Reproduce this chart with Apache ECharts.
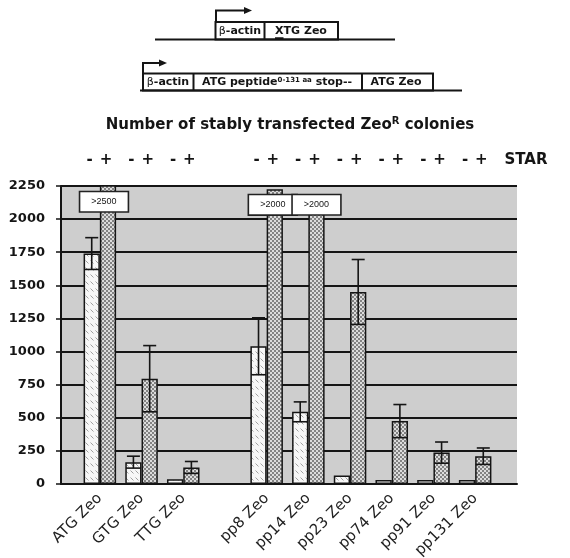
<!DOCTYPE html>
<html><head><meta charset="utf-8">
<script src="https://cdn.jsdelivr.net/npm/echarts@6/dist/echarts.min.js"></script>
<style>html,body{margin:0;padding:0;background:#fff}#c{width:570px;height:558px}</style>
</head><body><div id="c"></div>
<script>
// ---------- data ----------
const categories = ['ATG Zeo','GTG Zeo','TTG Zeo','','pp8 Zeo','pp14 Zeo','pp23 Zeo','pp74 Zeo','pp91 Zeo','pp131 Zeo'];
const minusStar = [1740, 165, 35, null, 1040, 545, 65, 30, 30, 30];
const minusErr  = [120, 45, 0, null, 215, 75, 0, 0, 0, 0];
const plusStar  = [2600, 795, 125, null, 2225, 2150, 1450, 475, 237, 210];
const plusErr   = [0, 250, 45, null, 0, 0, 245, 125, 80, 62];
const overflowLabels = ['>2500', null, null, null, '>2000', '>2000', null, null, null, null];
const starSigns = ['-', '+'];
const yMin = 0, yMax = 2250, yInterval = 250;

// ---------- styles ----------
const CAT_GAP = 0.22;
const boxPos = { 0: [-4, 7], 4: [-2, 6], 5: [0, -4] };
const INK = '#151515';
const BOLD = 'DejaVu Sans';

function hatchPattern() {
  const c = document.createElement('canvas'); c.width = 5; c.height = 7;
  const g = c.getContext('2d');
  g.fillStyle = '#f7f7f7'; g.fillRect(0, 0, 5, 7);
  g.strokeStyle = '#a0a0a0'; g.lineWidth = 1;
  g.beginPath(); g.moveTo(0.5, 1.5); g.lineTo(3.5, 4.5); g.stroke();
  return c;
}
function dotPattern() {
  const c = document.createElement('canvas'); c.width = 4; c.height = 4;
  const g = c.getContext('2d');
  g.fillStyle = '#dcdcdc'; g.fillRect(0, 0, 4, 4);
  g.fillStyle = '#838383'; g.fillRect(0, 0, 2, 2); g.fillRect(2, 2, 2, 2);
  return c;
}

const chart = echarts.init(document.getElementById('c'), null, { renderer: 'canvas' });

function errRender(side) {
  return function (params, api) {
    const i = api.value(0), m = api.value(1), e = api.value(2);
    const band = api.size([1, 0])[0];
    const bw = band * (1 - CAT_GAP) / 2;
    const cx = api.coord([i, m])[0] + side * bw / 2;
    const yt = api.coord([i, m + e])[1], yb = api.coord([i, m - e])[1];
    const st = { stroke: INK, lineWidth: 1.6 };
    return { type: 'group', children: [
      { type: 'line', shape: { x1: cx, y1: yt, x2: cx, y2: yb }, style: st },
      { type: 'line', shape: { x1: cx - 6.5, y1: yt, x2: cx + 6.5, y2: yt }, style: st },
      { type: 'line', shape: { x1: cx - 7.5, y1: yb, x2: cx + 7.5, y2: yb }, style: st }
    ]};
  };
}
function signRender(params, api) {
  const i = api.value(0);
  const band = api.size([1, 0])[0];
  const bw = band * (1 - CAT_GAP) / 2;
  const cx = api.coord([i, yMax])[0];
  const y = api.coord([i, yMax])[1] - 26;
  return { type: 'group', children: starSigns.map((s, k) => ({
    type: 'text', x: cx + (k ? 1 : -1) * bw / 2 - 2, y: y,
    style: { text: s, fontFamily: BOLD, fontWeight: 'bold', fontSize: 15, fill: INK, align: 'center', verticalAlign: 'middle' }
  }))};
}

const plusData = plusStar.map((v, i) => {
  if (!overflowLabels[i]) return v;
  const p = boxPos[i];
  return { value: v, label: {
    show: true, formatter: overflowLabels[i], position: ['50%', p[1]], offset: [p[0], 0],
    align: 'center', verticalAlign: 'top',
    fontFamily: 'Liberation Sans', fontSize: 9, color: INK,
    backgroundColor: '#fff', borderColor: '#222', borderWidth: 1.6, padding: [5, 11, 5, 11]
  }};
});

const errMinus = minusStar.map((v, i) => [i, v, minusErr[i]]).filter(d => d[1] != null && d[2] > 0);
const errPlus = plusStar.map((v, i) => [i, v, plusErr[i]]).filter(d => d[1] != null && d[2] > 0);
const signData = categories.map((c, i) => [i, yMax]).filter(d => categories[d[0]] !== '');

const txt = (x, y, text, size, extra) => ({ type: 'text', x, y, z: 10,
  style: Object.assign({ text, fontFamily: BOLD, fontWeight: 'bold', fontSize: size, fill: INK, align: 'center', verticalAlign: 'middle' }, extra || {}) });
const ln = (x1, y1, x2, y2, w) => ({ type: 'line', z: 10, shape: { x1, y1, x2, y2 }, style: { stroke: INK, lineWidth: w || 2 } });
const boxR = (x, y, w, h) => ({ type: 'rect', z: 9, shape: { x, y, width: w, height: h }, style: { fill: '#fff', stroke: INK, lineWidth: 2 } });
const tri = (x, y) => ({ type: 'polygon', z: 10, shape: { points: [[x, y - 3.5], [x + 8, y], [x, y + 3.5]] }, style: { fill: INK } });
const greek = { g: { fontFamily: BOLD, fontWeight: 'normal', fontSize: 11, fill: INK } };

const graphics = [
  // construct 1
  ln(155, 39.5, 395, 39.5), boxR(215.5, 22, 122.5, 17.5), ln(264.5, 22, 264.5, 39.5),
  { type: 'polyline', z: 10, shape: { points: [[216, 22], [216, 10.5], [244, 10.5]] }, style: { stroke: INK, lineWidth: 2, fill: null } },
  tri(244, 10.5),
  txt(240, 31, '{g|β}-actin', 11, { rich: greek }),
  txt(301, 31, 'XTG Zeo', 11),
  ln(275, 38.5, 283.5, 38.5, 2.5),
  // construct 2
  ln(140, 90.5, 462, 90.5), boxR(143, 73.5, 290, 17), ln(193.5, 73.5, 193.5, 90.5), ln(362, 73.5, 362, 90.5),
  { type: 'polyline', z: 10, shape: { points: [[143, 73.5], [143, 63], [159, 63]] }, style: { stroke: INK, lineWidth: 2, fill: null } },
  tri(159, 63),
  txt(168, 82.5, '{g|β}-actin', 11, { rich: greek }),
  txt(277, 82.5, 'ATG peptide{s|0-131 aa} stop--', 11, { rich: { s: { fontFamily: BOLD, fontWeight: 'bold', fontSize: 7, fill: INK, verticalAlign: 'top', padding: [0, 0, 5, 0] } } }),
  txt(396, 82.5, 'ATG Zeo', 11),
  // title
  txt(290, 125, 'Number of stably transfected Zeo{s|R} colonies', 15, { rich: { s: { fontFamily: BOLD, fontWeight: 'bold', fontSize: 10, fill: INK, verticalAlign: 'top', padding: [0, 0, 7, 0] } } }),
  // STAR
  txt(526, 160, 'STAR', 15)
];

const option = {
  animation: false,
  backgroundColor: '#fff',
  grid: [
    { left: 61, right: 53, top: 186, bottom: 74, show: true, backgroundColor: '#cecece', borderWidth: 0, outerBoundsMode: 'none', containLabel: false },
    { left: 79, right: 74, top: 186, bottom: 74, outerBoundsMode: 'none', containLabel: false }
  ],
  xAxis: [
    { type: 'category', gridIndex: 0, data: [''], axisLine: { show: true, lineStyle: { color: INK, width: 2 } }, axisTick: { show: false }, axisLabel: { show: false }, splitLine: { show: false } },
    { type: 'category', gridIndex: 1, data: categories, axisLine: { show: false }, axisTick: { show: false }, splitLine: { show: false },
      axisLabel: { rotate: 45, margin: 12, fontFamily: 'DejaVu Sans', fontSize: 15, color: '#222', interval: 0 } }
  ],
  yAxis: [
    { type: 'value', gridIndex: 0, min: yMin, max: yMax, interval: yInterval,
      axisLine: { show: true, lineStyle: { color: INK, width: 2 } },
      axisTick: { show: true, length: 5, lineStyle: { color: INK, width: 1.5 } },
      axisLabel: { margin: 16, fontFamily: BOLD, fontWeight: 'bold', fontSize: 13, color: INK, formatter: v => String(v) },
      splitLine: { show: true, showMinLine: true, showMaxLine: true, lineStyle: { color: INK, width: 2 } } },
    { type: 'value', gridIndex: 1, min: yMin, max: yMax, interval: yInterval, show: false, splitLine: { show: false } }
  ],
  graphic: graphics,
  series: [
    { type: 'bar', name: 'minus STAR', xAxisIndex: 1, yAxisIndex: 1, data: minusStar, barGap: '0%', barCategoryGap: (CAT_GAP * 100) + '%',
      itemStyle: { color: { image: hatchPattern(), repeat: 'repeat' }, borderColor: INK, borderWidth: 1.5 }, silent: true, z: 3 },
    { type: 'bar', name: 'plus STAR', xAxisIndex: 1, yAxisIndex: 1, data: plusData, barGap: '0%', barCategoryGap: (CAT_GAP * 100) + '%',
      itemStyle: { color: { image: dotPattern(), repeat: 'repeat' }, borderColor: INK, borderWidth: 1.5 }, silent: true, z: 3 },
    { type: 'custom', xAxisIndex: 1, yAxisIndex: 1, data: errMinus, renderItem: errRender(-1), z: 4, silent: true },
    { type: 'custom', xAxisIndex: 1, yAxisIndex: 1, data: errPlus, renderItem: errRender(1), z: 4, silent: true },
    { type: 'custom', xAxisIndex: 1, yAxisIndex: 1, data: signData, renderItem: signRender, z: 4, silent: true, clip: false }
  ]
};
chart.setOption(option);
</script></body></html>
